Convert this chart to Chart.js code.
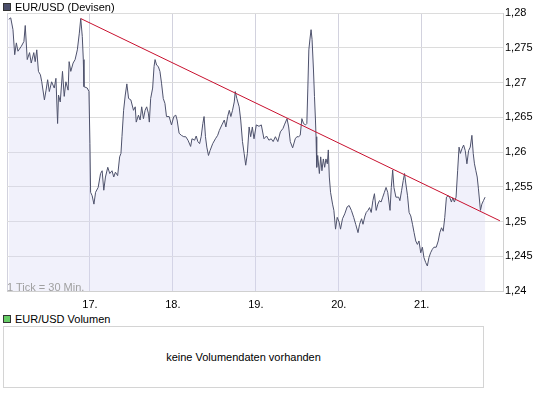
<!DOCTYPE html>
<html>
<head>
<meta charset="utf-8">
<script src="https://cdn.jsdelivr.net/npm/chart.js@4"></script>
<style>
  body { margin:0; background:#fff; font-family:"Liberation Sans", Arial, sans-serif; font-size:11px; color:#000; }
  #wrap { position:relative; width:545px; height:397px; }
  #chart { position:absolute; left:0; top:0; }
  .legend { position:absolute; left:3px; height:12px; line-height:12px; white-space:nowrap; }
  .legend i { display:inline-block; width:6px; height:6px; border:1px solid #333; vertical-align:0px; margin-right:4px; }
  #tickNote { position:absolute; left:7px; top:281px; color:#a0a0a0; line-height:12px; }
  #volBox { position:absolute; left:3px; top:326px; width:479px; height:60px; border:1px solid #d4d4d4; text-align:center; line-height:60px; }
</style>
</head>
<body>
<div id="wrap">
  <canvas id="chart" width="545" height="312"></canvas>
  <div class="legend" style="top:1px"><i style="background:#4a4e6a"></i>EUR/USD (Devisen)</div>
  <div id="tickNote">1 Tick = 30 Min.</div>
  <div class="legend" style="top:313px"><i style="background:#66cc66"></i>EUR/USD Volumen</div>
  <div id="volBox">keine Volumendaten vorhanden</div>
</div>
<script>
// EUR/USD, 30-min ticks, x = day of month
const times = [
  16.021,16.045,16.072,16.093,16.113,16.132,16.172,16.204,16.220,16.244,
  16.272,16.292,16.323,16.340,16.359,16.379,16.403,16.419,16.451,16.471,
  16.490,16.510,16.538,16.570,16.590,16.610,16.621,16.642,16.669,16.690,
  16.710,16.737,16.749,16.769,16.797,16.821,16.848,16.872,16.889,16.908,
  16.920,16.928,16.968,16.988,17.000,17.008,17.027,17.048,17.068,17.099,
  17.128,17.147,17.167,17.187,17.215,17.239,17.266,17.287,17.307,17.334,
  17.358,17.374,17.386,17.406,17.426,17.445,17.466,17.493,17.525,17.546,
  17.558,17.585,17.605,17.624,17.645,17.665,17.684,17.704,17.716,17.732,
  17.756,17.773,17.785,17.804,17.824,17.844,17.863,17.884,17.904,17.923,
  17.955,17.983,18.011,18.035,18.051,18.075,18.102,18.131,18.155,18.182,
  18.214,18.230,18.262,18.281,18.301,18.322,18.341,18.361,18.376,18.393,
  18.409,18.429,18.448,18.480,18.513,18.540,18.560,18.591,18.620,18.639,
  18.660,18.680,18.699,18.719,18.740,18.752,18.771,18.799,18.818,18.839,
  18.859,18.878,18.898,18.919,18.938,18.958,18.978,19.006,19.038,19.066,
  19.098,19.129,19.158,19.185,19.209,19.236,19.265,19.296,19.328,19.344,
  19.376,19.396,19.415,19.444,19.475,19.495,19.516,19.535,19.555,19.575,
  19.599,19.615,19.627,19.639,19.654,19.666,19.678,19.695,19.707,19.719,
  19.726,19.734,19.746,19.766,19.782,19.797,19.814,19.830,19.845,19.862,
  19.874,19.886,19.901,19.925,19.941,19.961,19.981,20.005,20.021,20.045,
  20.072,20.101,20.125,20.152,20.180,20.204,20.232,20.251,20.275,20.292,
  20.316,20.331,20.352,20.371,20.391,20.411,20.430,20.451,20.471,20.490,
  20.510,20.530,20.550,20.570,20.590,20.618,20.633,20.650,20.665,20.689,
  20.722,20.737,20.758,20.777,20.793,20.809,20.829,20.848,20.868,20.889,
  20.908,20.928,20.948,20.967,20.988,21.008,21.027,21.048,21.068,21.087,
  21.107,21.128,21.147,21.175,21.199,21.218,21.239,21.259,21.278,21.298,
  21.318,21.337,21.358,21.374,21.394,21.414,21.433,21.450,21.466,21.486,
  21.505,21.525,21.545,21.565,21.585,21.605,21.621,21.636,21.653,21.669,
  21.684,21.708,21.725,21.744,21.764
];
const rates = [
  1.2791,1.2793,1.2776,1.2740,1.2757,1.2745,1.2752,1.2759,1.2782,1.2733,
  1.2743,1.2728,1.2743,1.2730,1.2747,1.2716,1.2711,1.2701,1.2675,1.2689,
  1.2704,1.2687,1.2701,1.2692,1.2706,1.2641,1.2682,1.2672,1.2716,1.2680,
  1.2701,1.2689,1.2730,1.2716,1.2728,1.2733,1.2747,1.2771,1.2792,1.2766,
  1.2733,1.2694,1.2692,1.2687,1.2612,1.2542,1.2537,1.2525,1.2542,1.2549,
  1.2569,1.2573,1.2545,1.2564,1.2578,1.2569,1.2573,1.2564,1.2571,1.2566,
  1.2593,1.2598,1.2622,1.2660,1.2682,1.2698,1.2677,1.2675,1.2660,1.2665,
  1.2643,1.2653,1.2646,1.2665,1.2648,1.2660,1.2665,1.2656,1.2643,1.2677,
  1.2692,1.2723,1.2733,1.2725,1.2723,1.2716,1.2699,1.2677,1.2670,1.2651,
  1.2651,1.2639,1.2651,1.2653,1.2646,1.2627,1.2624,1.2622,1.2622,1.2617,
  1.2608,1.2619,1.2617,1.2623,1.2615,1.2612,1.2622,1.2641,1.2651,1.2622,
  1.2607,1.2595,1.2602,1.2612,1.2619,1.2624,1.2631,1.2639,1.2646,1.2636,
  1.2651,1.2660,1.2651,1.2660,1.2672,1.2687,1.2677,1.2665,1.2646,1.2615,
  1.2598,1.2581,1.2598,1.2636,1.2622,1.2636,1.2619,1.2639,1.2637,1.2639,
  1.2619,1.2623,1.2617,1.2619,1.2615,1.2622,1.2615,1.2629,1.2634,1.2639,
  1.2648,1.2636,1.2615,1.2606,1.2619,1.2622,1.2622,1.2624,1.2648,1.2641,
  1.2639,1.2641,1.2692,1.2747,1.2764,1.2776,1.2762,1.2718,1.2680,1.2646,
  1.2622,1.2578,1.2595,1.2569,1.2593,1.2573,1.2590,1.2578,1.2590,1.2583,
  1.2603,1.2564,1.2542,1.2525,1.2516,1.2489,1.2506,1.2499,1.2489,1.2504,
  1.2511,1.2521,1.2523,1.2516,1.2506,1.2496,1.2484,1.2496,1.2504,1.2496,
  1.2508,1.2513,1.2516,1.2520,1.2513,1.2530,1.2540,1.2516,1.2525,1.2530,
  1.2528,1.2535,1.2542,1.2549,1.2542,1.2516,1.2549,1.2574,1.2549,1.2535,
  1.2535,1.2530,1.2545,1.2559,1.2569,1.2554,1.2537,1.2513,1.2508,1.2496,
  1.2484,1.2472,1.2467,1.2472,1.2455,1.2463,1.2448,1.2441,1.2436,1.2448,
  1.2455,1.2460,1.2463,1.2463,1.2472,1.2484,1.2491,1.2486,1.2506,1.2535,
  1.2537,1.2535,1.2528,1.2534,1.2528,1.2535,1.2573,1.2607,1.2598,1.2605,
  1.2610,1.2602,1.2583,1.2602,1.2607,1.2624,1.2598,1.2583,1.2573,1.2564,
  1.2547,1.2516,1.2525,1.2530,1.2535
];
// trend line (red), two end points
const trendTimes = [16.889, 21.943];
const trendRates = [1.2792, 1.2501];

const dayTicks = [17, 18, 19, 20, 21];
const rateTicks = [1.24, 1.245, 1.25, 1.255, 1.26, 1.265, 1.27, 1.275, 1.28];
const xMin = 16, xMax = 21.98;

const fmtRate = v => String(+v.toFixed(3)).replace('.', ',');

new Chart(document.getElementById('chart'), {
  type: 'line',
  data: {
    datasets: [
      { data: trendTimes.map((t, i) => ({ x: t, y: trendRates[i] })),
        borderColor: '#c8102e', borderWidth: 1, pointRadius: 0, fill: false },
      { data: times.map((t, i) => ({ x: t, y: rates[i] })),
        borderColor: '#4e526c', borderWidth: 1, pointRadius: 0, tension: 0,
        fill: 'start', backgroundColor: 'rgba(215,215,245,0.36)' },
    ]
  },
  options: {
    responsive: false, animation: false,
    layout: { padding: { left: 3, top: 13, right: 0, bottom: 0 } },
    plugins: { legend: { display: false }, tooltip: { enabled: false } },
    scales: {
      x: {
        type: 'linear', min: xMin, max: xMax,
        afterBuildTicks: s => { s.ticks = [xMin, ...dayTicks].map(v => ({ value: v })); },
        afterFit: s => { s.height = 21; },
        grid: { color: '#d2d2de', drawTicks: false },
        border: { color: '#d0d0d0' },
        ticks: { autoSkip: false, maxRotation: 0, padding: 7, color: '#000',
          font: { family: '"Liberation Sans", Arial', size: 11 },
          callback: v => dayTicks.includes(v) ? v + '.' : '' }
      },
      y: {
        position: 'right', min: 1.24, max: 1.28,
        afterBuildTicks: s => { s.ticks = rateTicks.map(v => ({ value: v })); },
        afterFit: s => { s.width = 42; },
        grid: { color: '#dcdcdc', drawTicks: false },
        border: { color: '#d0d0d0' },
        ticks: { padding: 2, color: '#000',
          font: { family: '"Liberation Sans", Arial', size: 11 },
          callback: v => fmtRate(v) }
      }
    }
  }
});
</script>
</body>
</html>
